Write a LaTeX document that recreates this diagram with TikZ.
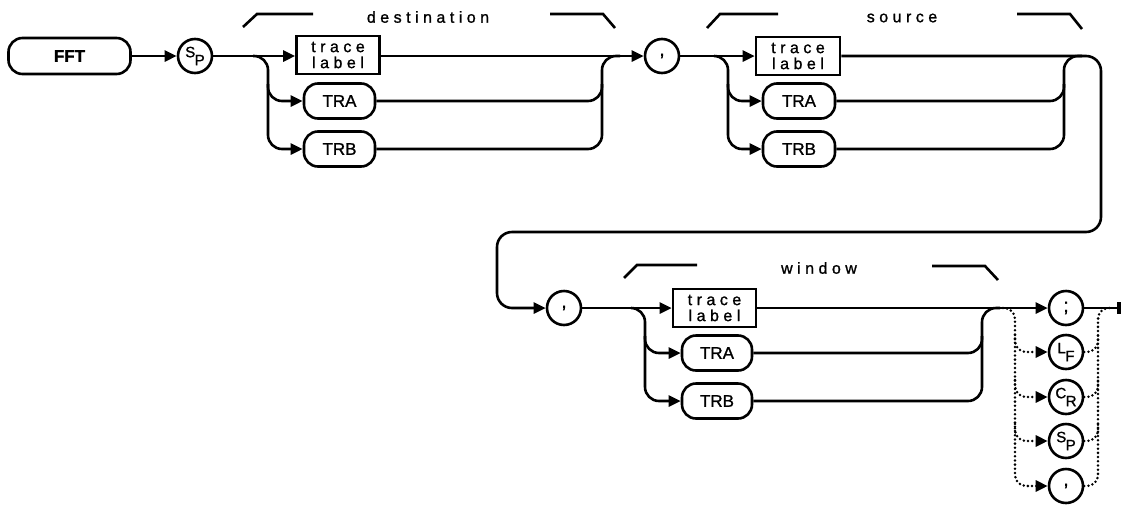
\documentclass[tikz,border=0pt]{standalone}
\usepackage{fontspec}
\setmainfont{Liberation Sans}[FakeBold=1.2]
\newfontfamily\hp[FakeBold=1.2]{Liberation Sans}
\newfontfamily\spaced[LetterSpace=28,FakeBold=1.2]{Liberation Sans}
\usetikzlibrary{arrows.meta,calc}
\tikzset{
  ln/.style={line width=2.6pt},
  arr/.style={line width=2.6pt, -{Triangle[length=12pt,width=11pt]}},
  rc/.style={rounded corners=14pt},
  rcs/.style={rounded corners=11pt},
  rbox/.style={draw, line width=2.6pt, rounded corners=14pt, minimum width=69pt, minimum height=35pt, inner sep=0pt, font=\hp\fontsize{17}{17}\selectfont},
  sbox/.style={draw, line width=2.6pt, rectangle, minimum height=38pt, inner sep=0pt, font=\spaced\fontsize{16}{16}\selectfont, align=center},
  circ/.style={draw, circle, line width=2.6pt, minimum size=34pt, inner sep=0pt, font=\hp\fontsize{15}{15}\selectfont},
  dots/.style={line width=2.8pt, dash pattern=on 0pt off 4.2pt, line cap=round},
  darr/.style={dots, -{Triangle[length=12pt,width=11pt]}},
  brk/.style={line width=2.6pt},
  grp/.style={font=\spaced\fontsize{16}{16}\selectfont, inner sep=0pt},
}
\newcommand{\spg}[2]{\raisebox{4pt}{#1}\kern-0.5pt\raisebox{-4pt}{#2}}
\newcommand{\pun}[1]{\raisebox{2pt}{\fontsize{19}{19}\selectfont #1}}
\begin{document}
\begin{tikzpicture}[x=1pt,y=-1pt]
\useasboundingbox (0,0) rectangle (1122,504);
% nodes
\node[rbox, font=\bfseries\fontsize{17}{17}\selectfont, minimum width=122pt, minimum height=36pt] (fft) at (69.5,56) {FFT};
\node[circ] (sp) at (195,56) {\spg{S}{P}};
\node[sbox, minimum width=83pt] (tl1) at (338,55) {trace\\label};
\node[rbox, minimum width=71pt] (tra1) at (339.5,101) {TRA};
\node[rbox, minimum width=71pt] (trb1) at (339.5,149) {TRB};
\node[circ] (c1) at (662,56) {\pun{,}};
\node[sbox, minimum width=84pt] (tl2) at (798,56) {trace\\label};
\node[rbox, minimum width=72pt] (tra2) at (799,101) {TRA};
\node[rbox, minimum width=72pt] (trb2) at (799,149) {TRB};
\node[circ] (c2) at (564,308) {\pun{,}};
\node[sbox, minimum width=83pt] (tl3) at (714.5,308) {trace\\label};
\node[rbox, minimum width=70pt] (tra3) at (717,353) {TRA};
\node[rbox, minimum width=70pt] (trb3) at (717,401) {TRB};
\node[circ] (t1) at (1066,308) {\pun{;}};
\node[circ] (t2) at (1066,352) {\spg{L}{F}};
\node[circ] (t3) at (1066,397) {\spg{C}{R}};
\node[circ] (t4) at (1066,441) {\spg{S}{P}};
\node[circ] (t5) at (1066,486) {\pun{,}};
% group labels
\node[grp] (gdest) at (428,17) {destination};
\node[grp] (gsrc) at (902,18) {source};
\node[grp] (gwin) at (819,268) {window};
\draw[brk] (243,27) -- (257,14) -- (313,14);
\draw[brk] (550,14) -- (603,14) -- (615,28);
\draw[brk] (707,28) -- (720,14) -- (778,14);
\draw[brk] (1017,14) -- (1070,14) -- (1082,29);
\draw[brk] (624,278) -- (637,265) -- (697,265);
\draw[brk] (932,266) -- (985,266) -- (998,280);
% junction coordinates
\coordinate (d1s) at (253,56);
\coordinate (d1v) at (268,84);
\coordinate (d1m) at (602,84);
\coordinate (d1e) at (620,56);
\coordinate (s1s) at (714,56);
\coordinate (s1v) at (728,84);
\coordinate (s1m) at (1064,84);
\coordinate (s1e) at (1082,56);
\coordinate (w1s) at (631,308);
\coordinate (w1v) at (645,336);
\coordinate (w1m) at (982,336);
\coordinate (w1e) at (1000,308);
\coordinate (ts) at (1003,308);
\coordinate (te) at (1112,308);
\coordinate (endp) at (1119,308);
% destination
\draw[arr] (fft) -- (sp);
\draw[arr] (sp) -- (sp -| tl1.west);
\draw[arr, rc] (d1s) -- (268,56) -- (268,149) -- (trb1.west);
\draw[arr, rc] (d1v) -- (268,101) -- (tra1.west);
\draw[ln, rc] (tra1.east) -- (602,101) -- (d1m);
\draw[ln, rc] (trb1.east) -- (602,149) -- (602,56) -- (d1e);
\draw[arr] (c1 -| tl1.east) -- (c1);
% source
\draw[arr] (c1) -- (tl2);
\draw[arr, rc] (s1s) -- (728,56) -- (728,149) -- (trb2.west);
\draw[arr, rc] (s1v) -- (728,101) -- (tra2.west);
\draw[ln, rc] (tra2.east) -- (1064,101) -- (s1m);
\draw[ln, rc] (trb2.east) -- (1064,149) -- (1064,56) -- (s1e);
\draw[arr, rounded corners=15pt] (tl2.east) -- (1101,56) -- (1101,232) -- (497,232) -- (497,308) -- (c2.west);
% window
\draw[arr] (c2) -- (tl3);
\draw[arr, rc] (w1s) -- (645,308) -- (645,401) -- (trb3.west);
\draw[arr, rc] (w1v) -- (645,353) -- (tra3.west);
\draw[ln, rc] (tra3.east) -- (982,353) -- (w1m);
\draw[ln, rc] (trb3.east) -- (982,401) -- (982,308) -- (w1e);
\draw[arr] (tl3) -- (t1);
\draw[ln] (t1) -- (endp);
\draw[line width=3.5pt] ($(endp)+(0,-6)$) -- ($(endp)+(0,6)$);
% terminators, dotted
\draw[darr, rcs] (ts) -- (1015,308) -- (1015,486) -- (t5.west);
\draw[darr, rcs] (1015,335) -- (1015,352) -- (t2.west);
\draw[darr, rcs] (1015,380) -- (1015,397) -- (t3.west);
\draw[darr, rcs] (1015,424) -- (1015,441) -- (t4.west);
\draw[dots, rcs] (t5.east) -- (1098,486) -- (1098,308) -- (te);
\draw[dots, rcs] (t2.east) -- (1098,352) -- (1098,335);
\draw[dots, rcs] (t3.east) -- (1098,397) -- (1098,380);
\draw[dots, rcs] (t4.east) -- (1098,441) -- (1098,424);
\end{tikzpicture}
\end{document}
